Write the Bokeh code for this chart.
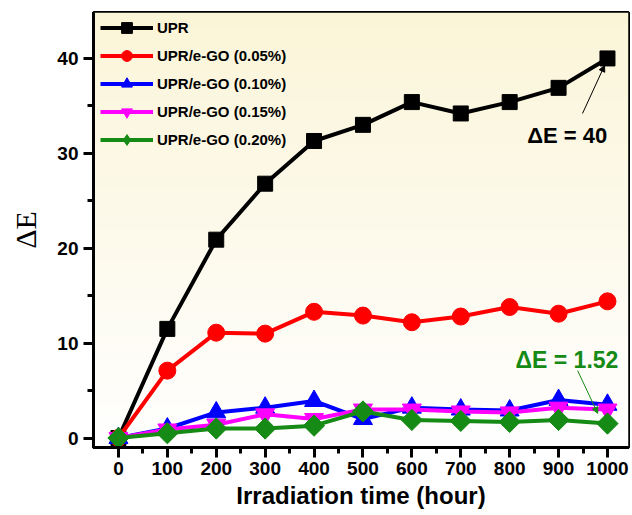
import numpy as np
from bokeh.plotting import figure
from bokeh.models import Range1d, Arrow, NormalHead, Label, FixedTicker
from bokeh.embed import file_html
from bokeh.resources import INLINE

# ---- data ----
hours = [0, 100, 200, 300, 400, 500, 600, 700, 800, 900, 1000]
upr = [0, 11.5, 20.9, 26.8, 31.3, 33.0, 35.4, 34.2, 35.4, 36.9, 40.0]
ego_005 = [0, 7.1, 11.1, 11.0, 13.3, 12.9, 12.2, 12.8, 13.8, 13.1, 14.4]
ego_010 = [0, 1.0, 2.7, 3.2, 3.9, 2.0, 3.2, 3.0, 2.9, 4.0, 3.5]
ego_015 = [0, 0.9, 1.4, 2.5, 2.0, 3.0, 3.0, 2.8, 2.7, 3.2, 3.0]
ego_020 = [0, 0.5, 1.0, 1.0, 1.3, 2.8, 1.9, 1.8, 1.7, 1.9, 1.52]
labels = ["UPR", "UPR/e-GO (0.05%)", "UPR/e-GO (0.10%)", "UPR/e-GO (0.15%)", "UPR/e-GO (0.20%)"]
x_ticks = [0, 100, 200, 300, 400, 500, 600, 700, 800, 900, 1000]
y_ticks = [0, 10, 20, 30, 40]

XMIN, XMAX = -51, 1043
YMIN, YMAX = -1.0, 44.84

p = figure(width=630, height=512, output_backend="svg", toolbar_location=None,
           x_range=Range1d(XMIN, XMAX), y_range=Range1d(YMIN, YMAX),
           min_border_left=93, min_border_top=12, min_border_right=2, min_border_bottom=65)

# background gradient (cream at top to white at bottom)
n = 200
t = np.linspace(0, 1, n)[:, None]  # 0 bottom -> 1 top
top = np.array([251, 245, 216]); bot = np.array([255, 255, 255])
cols = (bot + (top - bot) * t).astype(np.uint32)
img = np.empty((n, 1), dtype=np.uint32)
view = img.view(dtype=np.uint8).reshape((n, 1, 4))
view[:, :, 0] = cols[:, 0:1]
view[:, :, 1] = cols[:, 1:2]
view[:, :, 2] = cols[:, 2:3]
view[:, :, 3] = 255
p.image_rgba(image=[img], x=XMIN, y=YMIN, dw=XMAX - XMIN, dh=YMAX - YMIN, level="image")

p.xgrid.visible = False
p.ygrid.visible = False
p.outline_line_color = "black"
p.outline_line_width = 3
p.outline_line_alpha = 1

GREEN = "#158A15"
series = [
    (upr, "black", "square", 15, 0),
    (ego_005, "#FF0000", "circle", 17, 0),
    (ego_010, "#0000FF", "triangle", 19, 0),
    (ego_015, "#FF00FF", "inverted_triangle", 19, 0),
    (ego_020, GREEN, "square", 15, np.pi / 4),
]
for (vals, c, m, s, ang), lab in zip(series, labels):
    p.line(hours, vals, line_color=c, line_width=4, legend_label=lab)
    if ang == 0:
        p.scatter(hours, vals, marker=m, size=s, fill_color=c, line_color=c, legend_label=lab)
    else:
        # rotated square on the plot; a zero-size diamond only supplies the legend symbol
        p.scatter(hours, vals, marker=m, size=s, angle=ang, fill_color=c, line_color=c)
        p.scatter(hours, vals, marker="diamond", size=0, fill_color=c, line_color=c, legend_label=lab)

for ax in (p.xaxis[0], p.yaxis[0]):
    ax.axis_line_width = 3
    ax.major_tick_line_width = 3
    ax.minor_tick_line_width = 3
    ax.major_tick_in = 0
    ax.major_tick_out = 10
    ax.minor_tick_in = 0
    ax.minor_tick_out = 6
    ax.major_label_text_font = "Liberation Sans"
    ax.major_label_text_font_style = "bold"
    ax.major_label_text_font_size = "19px"
    ax.major_label_text_color = "black"
    ax.axis_label_text_color = "black"

p.xaxis.ticker = FixedTicker(ticks=x_ticks, minor_ticks=list(range(50, 1000, 100)))
p.yaxis.ticker = FixedTicker(ticks=y_ticks, minor_ticks=[5, 15, 25, 35])
p.xaxis.major_label_standoff = 4
p.yaxis.major_label_standoff = 5

p.xaxis.axis_label = "Irradiation time (hour)"
p.xaxis.axis_label_text_font = "Liberation Sans"
p.xaxis.axis_label_text_font_style = "bold"
p.xaxis.axis_label_text_font_size = "24px"
p.xaxis.axis_label_standoff = 4
p.yaxis.axis_label = "ΔE"
p.yaxis.axis_label_text_font = "Liberation Serif"
p.yaxis.axis_label_text_font_style = "normal"
p.yaxis.axis_label_text_font_size = "30px"
p.yaxis.axis_label_standoff = 12

lg = p.legend[0]
lg.location = (7, 294)
lg.margin = 0
lg.padding = 0
lg.background_fill_alpha = 0
lg.border_line_alpha = 0
lg.glyph_width = 53
lg.glyph_height = 27
lg.label_height = 16
lg.spacing = 1
lg.label_standoff = 4
lg.label_text_font = "Liberation Sans"
lg.label_text_font_style = "bold"
lg.label_text_font_size = "15px"
lg.label_text_color = "black"

# annotations
p.add_layout(Arrow(end=NormalHead(size=6, line_color="black", fill_color="black", line_width=1),
                   x_start=949, y_start=34.2, x_end=994, y_end=39.25, line_width=1, line_color="black"))
p.add_layout(Label(x=836, y=31.9, text="ΔE = 40", text_font="Liberation Sans", text_font_style="bold",
                   text_font_size="22px", text_color="black", text_baseline="middle"))
p.add_layout(Arrow(end=NormalHead(size=6, line_color=GREEN, fill_color=GREEN, line_width=1),
                   x_start=939, y_start=7.1, x_end=980, y_end=2.6, line_width=1, line_color=GREEN))
p.add_layout(Label(x=812, y=8.2, text="ΔE = 1.52", text_font="Liberation Sans", text_font_style="bold",
                   text_font_size="23px", text_color=GREEN, text_baseline="middle"))

open("out.html", "w").write(file_html(p, INLINE))
